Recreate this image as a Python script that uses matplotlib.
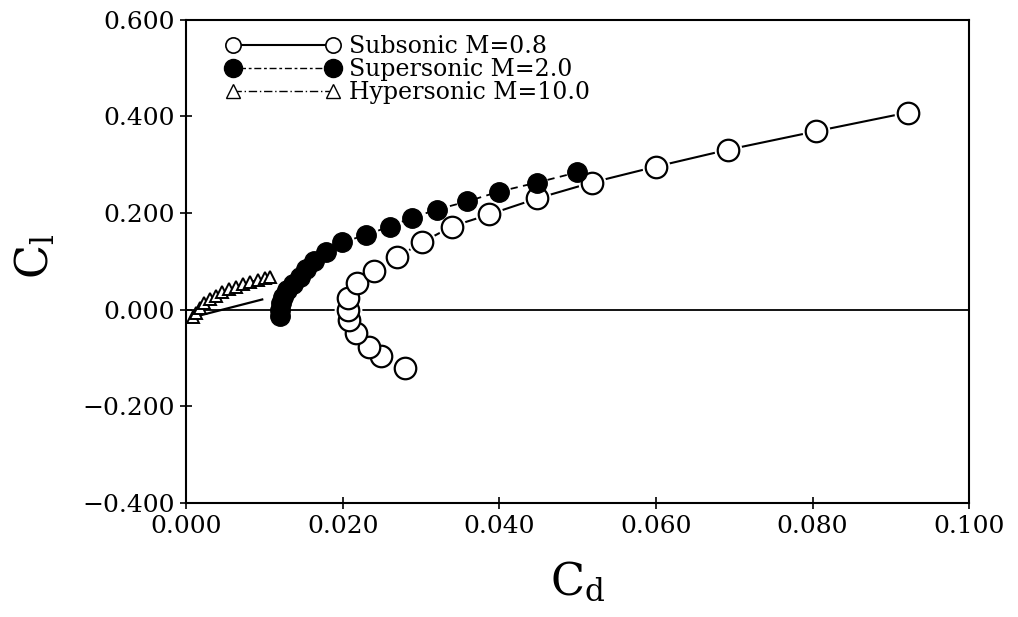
import matplotlib
matplotlib.use("Agg")
from matplotlib import pyplot as plt

# subsonic M=0.8 (open circles)
sub_cd = [0.0280, 0.0249, 0.0234, 0.0217, 0.0208, 0.0206, 0.0207, 0.0218, 0.0240, 0.0269,
          0.0301, 0.0339, 0.0387, 0.0448, 0.0518, 0.0600, 0.0692, 0.0804, 0.0922]
sub_cl = [-0.120, -0.097, -0.077, -0.048, -0.021, 0.000, 0.025, 0.056, 0.080, 0.108,
          0.139, 0.172, 0.197, 0.230, 0.263, 0.296, 0.331, 0.369, 0.408]

# supersonic M=2.0 (filled circles)
sup_cd = [0.0120, 0.0120, 0.0121, 0.0124, 0.0129, 0.0136, 0.0145, 0.0153, 0.0163, 0.0179,
          0.0199, 0.0230, 0.0260, 0.0288, 0.0320, 0.0359, 0.0399, 0.0448, 0.0499]
sup_cl = [-0.014, 0.000, 0.013, 0.026, 0.040, 0.054, 0.068, 0.084, 0.100, 0.120,
          0.139, 0.155, 0.172, 0.190, 0.207, 0.224, 0.244, 0.263, 0.284]

# hypersonic M=10.0 (triangles); first point is the end of the return line, unmarked
hyp_cd = [0.0097, 0.0008, 0.0012, 0.0017, 0.0023, 0.0030, 0.0038, 0.0046, 0.0055, 0.0064,
          0.0073, 0.0082, 0.0091, 0.0100, 0.0107]
hyp_cl = [0.021, -0.016, -0.006, 0.004, 0.014, 0.022, 0.029, 0.036, 0.042, 0.047,
          0.052, 0.057, 0.061, 0.065, 0.068]

labels = ["Subsonic M=0.8", "Supersonic M=2.0", "Hypersonic M=10.0"]
xticks = [0.0, 0.02, 0.04, 0.06, 0.08, 0.10]
yticks = [-0.4, -0.2, 0.0, 0.2, 0.4, 0.6]

plt.rcParams['font.family'] = ['DejaVu Serif']
plt.rcParams['mathtext.fontset'] = 'dejavuserif'

fig = plt.figure(figsize=(10.18, 6.17), dpi=100)
ax = fig.add_axes([0.183, 0.185, 0.769, 0.783])

ax.axhline(0.0, color="black", lw=1.3, zorder=1)

# subsonic: line, white halo, then open circle
ax.plot(sub_cd, sub_cl, color="black", lw=1.5, zorder=2)
ax.plot(sub_cd, sub_cl, ls="none", marker="o", ms=19, mfc="white", mec="white", zorder=3)
ax.plot(sub_cd, sub_cl, ls="none", marker="o", ms=15.5, mfc="white", mec="black",
        mew=1.6, zorder=4)

ax.plot(sup_cd, sup_cl, color="black", lw=1.3, ls=(0, (4, 3)), marker="o", ms=14,
        mfc="black", mec="black", zorder=5)

ax.plot(hyp_cd, hyp_cl, color="black", lw=1.6, ls="-", marker="^", ms=8,
        mfc="white", mec="black", mew=1.4, markevery=list(range(1, len(hyp_cd))), zorder=3)

# legend handles (line + markers at both ends)
h1, = ax.plot([], [], color="black", lw=1.5, marker="o", ms=11, mfc="white", mec="black", mew=1.2)
h2, = ax.plot([], [], color="black", lw=1.0, ls=(0, (2, 2, 5, 2)), marker="o", ms=13, mfc="black")
h3, = ax.plot([], [], color="black", lw=1.0, ls=(0, (6, 2, 1, 2)), marker="^", ms=10,
              mfc="white", mec="black", mew=1.0)
ax.legend([h1, h2, h3], labels, loc="upper left", bbox_to_anchor=(0.038, 0.988), frameon=False,
          numpoints=2, fontsize=17, handlelength=4.85, handletextpad=0.4, labelspacing=0.0,
          borderaxespad=0.0)

ax.set_xlim(0.0, 0.1)
ax.set_ylim(-0.4, 0.6)
ax.set_xticks(xticks)
ax.set_yticks(yticks)
ax.set_xticklabels([f"{v:.3f}" for v in xticks])
ax.set_yticklabels([f"{v:.3f}".replace("-", "\u2212") for v in yticks])
ax.tick_params(direction="inout", length=9, width=1.2, labelsize=18, pad=4)
for s in ax.spines.values():
    s.set_linewidth(1.5)

ax.set_xlabel(r"C$_\mathrm{d}$", fontsize=32, labelpad=16)
ax.set_ylabel(r"C$_\mathrm{l}$", fontsize=32, labelpad=14)
ax.yaxis.set_label_coords(-0.165, 0.51)

fig.savefig("out.png", dpi=100)
